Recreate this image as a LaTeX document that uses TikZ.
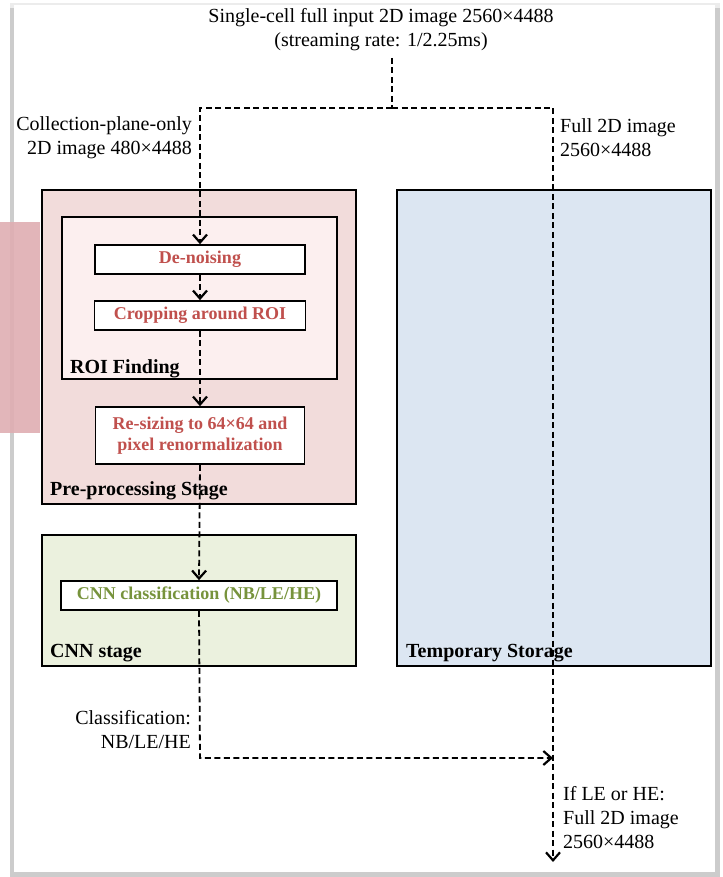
\documentclass[tikz,border=0pt]{standalone}
\usepackage{fontspec}
\setmainfont{Liberation Serif}
\usetikzlibrary{arrows.meta}
\definecolor{prefill}{HTML}{F2DCDB}
\definecolor{roifill}{HTML}{FCEFEF}
\definecolor{cnnfill}{HTML}{EBF1DE}
\definecolor{storefill}{HTML}{DCE6F2}
\definecolor{steptext}{HTML}{C0504D}
\definecolor{cnntext}{HTML}{77933C}
\definecolor{sidetab}{HTML}{DFAEB2}

\begin{document}
\begin{tikzpicture}[x=1pt,y=-1pt,
  stage/.style={draw,line width=1.6pt,minimum width=314pt,inner sep=0pt},
  stepbox/.style={draw,fill=white,line width=1.6pt,font=\fontsize{18}{21}\selectfont\bfseries,align=center,inner sep=0pt},
  tag/.style={anchor=base west,font=\fontsize{20}{25}\selectfont\bfseries,inner sep=0pt},
  note/.style={font=\fontsize{20}{24}\selectfont,inner sep=0pt},
  flow/.style={line width=1.8pt,dash pattern=on 6pt off 3.5pt,>={Straight Barb[length=8pt,width=14pt,line width=2.2pt]}}]
  \useasboundingbox (0,0) rectangle (722,877);
  % page
  \fill[gray!15] (10,3) rectangle (720,877);
  \fill[gray!40] (10,8) rectangle (720,877);
  \fill[white] (14,5) rectangle (715,872);
  \fill[sidetab,opacity=.9] (0,222) rectangle (40,433);

  % stages
  \node[stage,fill=prefill,minimum height=314pt] (pre) at (199,347) {};
  \node[stage,fill=roifill,minimum width=275pt,minimum height=162pt] (roi) at (199.5,298) {};
  \node[stage,fill=cnnfill,minimum height=131pt] (cnnst) at (199,600.5) {};
  \node[stage,fill=storefill,minimum height=476pt] (store) at (554,428) {};

  % steps
  \node[stepbox,text=steptext,minimum width=210pt,minimum height=29pt] (denoise) at (200,259.5) {De-noising};
  \node[stepbox,text=steptext,minimum width=211pt,minimum height=29pt] (crop) at (200,315.5) {Cropping around ROI};
  \node[stepbox,text=steptext,minimum width=209pt,minimum height=57pt] (resize) at (200,435.5) {Re-sizing to 64×64 and\\pixel renormalization};
  \node[stepbox,text=cnntext,minimum width=276pt,minimum height=29pt] (cnn) at (199,595.5) {CNN classification (NB/LE/HE)};

  \node[tag] (roitag) at (70,373) {ROI Finding};
  \node[tag] (pretag) at (50,495) {Pre-processing Stage};
  \node[tag] (cnntag) at (50,657) {CNN stage};
  \node[tag] (storetag) at (406,657) {Temporary Storage};

  % texts
  \node[note,align=center] (title) at (381,30) {Single-cell full input 2D image 2560×4488\\(streaming rate: 1/2.25ms)};
  \node[note,align=right,anchor=east] (colimg) at (192,138) {Collection-plane-only\\2D image 480×4488};
  \node[note,align=left,anchor=west] (fullimg) at (560,138) {Full 2D image\\2560×4488};
  \node[note,align=right,anchor=east] (classout) at (191,730) {Classification:\\NB/LE/HE};
  \node[note,align=left,anchor=west] (ifout) at (563,818) {If LE or HE:\\Full 2D image\\2560×4488};

  % data flow
  \coordinate (src) at (392,58);
  \coordinate (split) at (392,108);
  \coordinate (lsplit) at (200,108);
  \coordinate (rsplit) at (553,108);
  \coordinate (cbend) at (200,758);
  \coordinate (cjoin) at (553,758);
  \coordinate (sink) at (553,862);
  \draw[flow] (src) -- (split);
  \draw[flow,->] (split) -- (lsplit) -- (denoise.north);
  \draw[flow,->] (denoise.south) -- (crop.north);
  \draw[flow,->] (crop.south) -- (resize.north);
  \draw[flow,->] (resize.south) -- (cnn.north);
  \draw[flow,->] (cnn.south) -- (cbend) -- (cjoin);
  \draw[flow,->] (split) -- (rsplit) -- (sink);
\end{tikzpicture}
\end{document}
